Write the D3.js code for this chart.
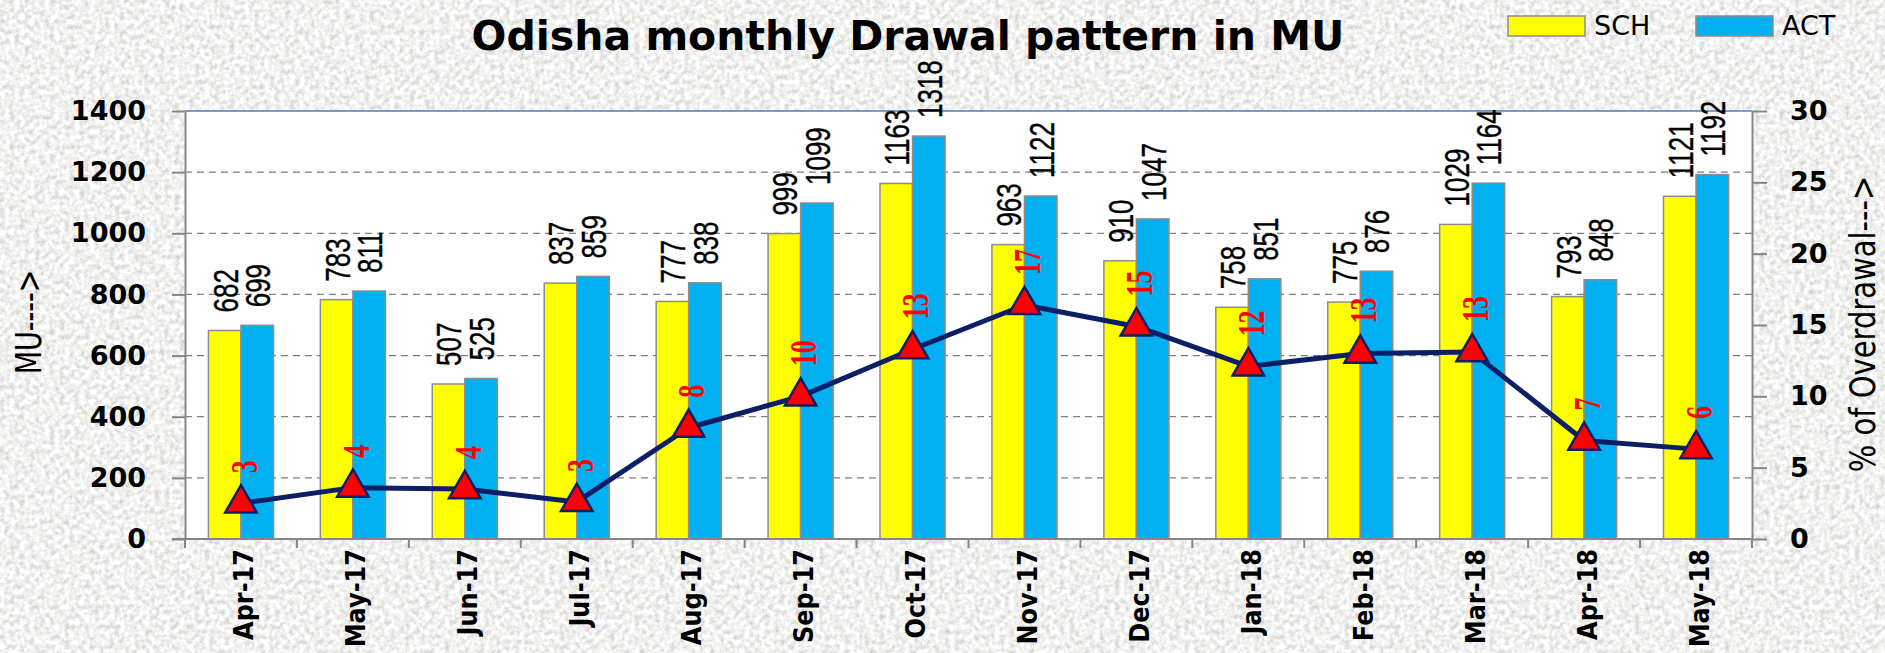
<!DOCTYPE html>
<html>
<head>
<meta charset="utf-8">
<script src="https://cdn.jsdelivr.net/npm/d3@7"></script>
<style>
  html, body { margin: 0; padding: 0; background: #e2e2e2; }
  svg { display: block; }
</style>
</head>
<body>
<svg id="chart"></svg>
<script>
// data
var months = ["Apr-17", "May-17", "Jun-17", "Jul-17", "Aug-17", "Sep-17", "Oct-17",
              "Nov-17", "Dec-17", "Jan-18", "Feb-18", "Mar-18", "Apr-18", "May-18"];
var sch = [682, 783, 507, 837, 777, 999, 1163, 963, 910, 758, 775, 1029, 793, 1121];
var act = [699, 811, 525, 859, 838, 1099, 1318, 1122, 1047, 851, 876, 1164, 848, 1192];
var overPct = [2.5, 3.6, 3.5, 2.6, 7.8, 10.0, 13.3, 16.4, 14.9, 12.1, 13.0, 13.1, 6.9, 6.3];
var overLabels = ["3", "4", "4", "3", "8", "10", "13", "17", "15", "12", "13", "13", "7", "6"];
var leftTicks = [0, 200, 400, 600, 800, 1000, 1200, 1400];
var rightTicks = [0, 5, 10, 15, 20, 25, 30];
var seriesNames = ["SCH", "ACT"];
var seriesColors = ["#ffff00", "#00b0f0"];

var W = 1885, H = 653;
var plot = {left: 185, right: 1752, top: 111, bottom: 539};

var svg = d3.select("#chart").attr("width", W).attr("height", H);

// textured grey background
var defs = svg.append("defs");
var f = defs.append("filter").attr("id", "granite")
    .attr("x", 0).attr("y", 0).attr("width", "100%").attr("height", "100%");
f.append("feTurbulence").attr("type", "fractalNoise")
    .attr("baseFrequency", 0.2).attr("numOctaves", 3).attr("seed", 4);
f.append("feColorMatrix").attr("type", "matrix")
    .attr("values", "0.7 0 0 0 0.53  0.7 0 0 0 0.53  0.7 0 0 0 0.52  0 0 0 0 1");
svg.append("rect").attr("width", W).attr("height", H).attr("filter", "url(#granite)");

// scales
var x = d3.scaleBand().domain(months).range([plot.left, plot.right]);
var xs = d3.scaleBand().domain(seriesNames).range([0, x.bandwidth()]).paddingOuter(0.72);
var y = d3.scaleLinear().domain([0, 1400]).range([plot.bottom, plot.top]);
var y2 = d3.scaleLinear().domain([0, 30]).range([plot.bottom, plot.top]);

// plot area
svg.append("rect")
    .attr("x", plot.left).attr("y", plot.top)
    .attr("width", plot.right - plot.left).attr("height", plot.bottom - plot.top)
    .attr("fill", "#fff");

// gridlines
svg.append("g").selectAll("line")
    .data(leftTicks.filter(function (d) { return d > 0 && d < 1400; }))
    .enter().append("line")
    .attr("x1", plot.left).attr("x2", plot.right)
    .attr("y1", function (d) { return y(d); }).attr("y2", function (d) { return y(d); })
    .attr("stroke", "#7f7f7f").attr("stroke-width", 1.3).attr("stroke-dasharray", "7,5");

// top border
svg.append("line")
    .attr("x1", plot.left).attr("x2", plot.right).attr("y1", plot.top).attr("y2", plot.top)
    .attr("stroke", "#4a7ebb").attr("stroke-width", 1.5);

// bars
var groups = svg.append("g").selectAll("g")
    .data(months).enter().append("g")
    .attr("transform", function (d) { return "translate(" + x(d) + ",0)"; });

groups.selectAll("rect")
    .data(function (d, i) { return [{k: "SCH", v: sch[i]}, {k: "ACT", v: act[i]}]; })
    .enter().append("rect")
    .attr("x", function (d) { return xs(d.k); })
    .attr("width", xs.bandwidth())
    .attr("y", function (d) { return y(d.v); })
    .attr("height", function (d) { return y(0) - y(d.v); })
    .attr("fill", function (d, j) { return seriesColors[j]; })
    .attr("stroke", "#8c8c8c").attr("stroke-width", 1.5);

// bar value labels (rotated)
groups.selectAll("g.vl")
    .data(function (d, i) { return [{k: "SCH", v: sch[i]}, {k: "ACT", v: act[i]}]; })
    .enter().append("g").attr("class", "vl")
    .attr("transform", function (d) {
        return "translate(" + (xs(d.k) + xs.bandwidth() / 2 + 1) + "," + (y(d.v) - 18) + ") rotate(-90)";
    })
    .append("text")
    .attr("transform", "scale(1,1.35)")
    .attr("dominant-baseline", "central")
    .attr("font-family", "Liberation Sans, Arial, sans-serif")
    .attr("font-size", 26)
    .attr("stroke", "#000").attr("stroke-width", 0.3)
    .attr("fill", "#000")
    .text(function (d) { return d.v; });

// axes
var axisColor = "#868686";
var leftAxis = svg.append("g")
    .attr("transform", "translate(" + plot.left + ",0)")
    .call(d3.axisLeft(y).tickValues(leftTicks).tickFormat(d3.format("d"))
        .tickSize(13).tickPadding(26).tickSizeOuter(0));
var rightAxis = svg.append("g")
    .attr("transform", "translate(" + plot.right + ",0)")
    .call(d3.axisRight(y2).tickValues(rightTicks).tickFormat(d3.format("d"))
        .tickSize(15).tickPadding(23).tickSizeOuter(0));
[leftAxis, rightAxis].forEach(function (a) {
    a.selectAll("path, line").attr("stroke", axisColor).attr("stroke-width", 2);
    a.selectAll("text")
        .attr("font-family", "DejaVu Sans, Verdana, sans-serif")
        .attr("font-weight", "bold")
        .attr("font-size", 27)
        .attr("fill", "#000");
});

// category axis
var bottom = svg.append("g");
bottom.append("line")
    .attr("x1", plot.left - 13).attr("x2", plot.right)
    .attr("y1", plot.bottom).attr("y2", plot.bottom)
    .attr("stroke", axisColor).attr("stroke-width", 2);
bottom.selectAll("line.tk")
    .data(months.concat(["end"])).enter().append("line").attr("class", "tk")
    .attr("x1", function (d) { return d === "end" ? plot.right : x(d); })
    .attr("x2", function (d) { return d === "end" ? plot.right : x(d); })
    .attr("y1", plot.bottom).attr("y2", plot.bottom + 9)
    .attr("stroke", axisColor).attr("stroke-width", 2);
bottom.selectAll("g.xl")
    .data(months).enter().append("g").attr("class", "xl")
    .attr("transform", function (d) {
        return "translate(" + (x(d) + x.bandwidth() / 2 + 3) + "," + (plot.bottom + 10) + ") rotate(-90)";
    })
    .append("text")
    .attr("transform", "scale(1,1.12)")
    .attr("text-anchor", "end")
    .attr("dominant-baseline", "central")
    .attr("font-family", "DejaVu Sans, Verdana, sans-serif")
    .attr("font-weight", "bold")
    .attr("font-size", 24)
    .attr("fill", "#000")
    .text(function (d) { return d; });

// overdrawal line
var cx = function (i) { return x(months[i]) + x.bandwidth() / 2; };
var line = d3.line()
    .x(function (d, i) { return cx(i); })
    .y(function (d) { return y2(d); });
svg.append("path")
    .datum(overPct)
    .attr("d", line)
    .attr("fill", "none")
    .attr("stroke", "#0c1f66")
    .attr("stroke-width", 5)
    .attr("stroke-linejoin", "round");

svg.append("g").selectAll("path")
    .data(overPct).enter().append("path")
    .attr("d", d3.symbol().type(d3.symbolTriangle).size(430))
    .attr("transform", function (d, i) { return "translate(" + cx(i) + "," + y2(d) + ")"; })
    .attr("fill", "#ff0000")
    .attr("stroke", "#0c1f66")
    .attr("stroke-width", 2.5);

svg.append("g").selectAll("g")
    .data(overPct).enter().append("g")
    .attr("transform", function (d, i) {
        return "translate(" + (cx(i) + 3) + "," + (y2(d) - 30) + ") rotate(-90)";
    })
    .append("text")
    .attr("transform", "scale(1,1.45)")
    .attr("dominant-baseline", "central")
    .attr("font-family", "Liberation Serif, Times New Roman, serif")
    .attr("font-weight", "bold")
    .attr("font-size", 26)
    .attr("fill", "#ff0000")
    .text(function (d, i) { return overLabels[i]; });

// title
svg.append("text")
    .attr("x", 908).attr("y", 50)
    .attr("text-anchor", "middle")
    .attr("font-family", "DejaVu Sans, Verdana, sans-serif")
    .attr("font-weight", "bold")
    .attr("font-size", 41)
    .attr("fill", "#000")
    .text("Odisha monthly Drawal pattern in MU");

// axis titles
svg.append("g")
    .attr("transform", "translate(29,322) rotate(-90)")
    .append("text")
    .attr("transform", "scale(1,1.3)")
    .attr("text-anchor", "middle")
    .attr("dominant-baseline", "central")
    .attr("font-family", "DejaVu Sans, Verdana, sans-serif")
    .attr("font-size", 27)
    .attr("fill", "#000")
    .text("MU---->");
svg.append("g")
    .attr("transform", "translate(1863,324) rotate(-90)")
    .append("text")
    .attr("transform", "scale(1,1.2)")
    .attr("text-anchor", "middle")
    .attr("dominant-baseline", "central")
    .attr("font-family", "DejaVu Sans, Verdana, sans-serif")
    .attr("font-size", 29)
    .attr("fill", "#000")
    .text("% of Overdrawal--->");

// legend
var legend = svg.append("g").selectAll("g")
    .data(seriesNames).enter().append("g")
    .attr("transform", function (d, i) { return "translate(" + (1508 + i * 188) + ",16)"; });
legend.append("rect")
    .attr("width", 77).attr("height", 20)
    .attr("fill", function (d, i) { return seriesColors[i]; })
    .attr("stroke", "#8c8c8c").attr("stroke-width", 1.5);
legend.append("text")
    .attr("x", 86).attr("y", 19)
    .attr("font-family", "DejaVu Sans, Verdana, sans-serif")
    .attr("font-size", 27)
    .attr("fill", "#000")
    .text(function (d) { return d; });
</script>
</body>
</html>
